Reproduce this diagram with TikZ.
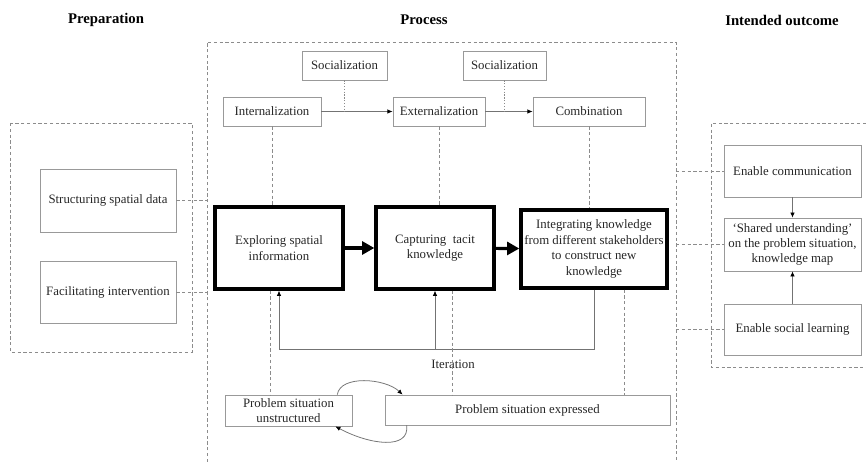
\documentclass[tikz,border=0pt]{standalone}
\usepackage{fontspec}
\setmainfont{Liberation Serif}
\usepackage{tikz}
\usetikzlibrary{arrows.meta,positioning,calc}

\begin{document}
\begin{tikzpicture}[x=0.78pt, y=-0.78pt,
    every node/.style={font=\fontsize{10}{12}\selectfont, text=black!85, align=center},
    title/.style={font=\fontsize{11.5}{14}\selectfont\bfseries, text=black},
    stage/.style={draw=black!40, line width=0.6pt, inner sep=2pt},
    bigstage/.style={draw=black, line width=2.6pt, inner sep=2pt},
    frame/.style={draw=black!45, line width=0.6pt, dash pattern=on 2.5pt off 2pt},
    link/.style={draw=black!45, line width=0.6pt, dash pattern=on 2.5pt off 2pt},
    soclink/.style={draw=black!45, line width=0.6pt, dash pattern=on 1pt off 1.2pt},
    flow/.style={draw=black!55, line width=0.6pt, -{Latex[length=4pt,width=3.5pt,black]}},
    push/.style={line width=2.5pt, -{Triangle[length=9.5pt,width=10pt]}}]
    \useasboundingbox (0,0) rectangle (866,462);

    % column titles
    \node[title] (prepT) at (106,20) {Preparation};
    \node[title] (procT) at (424,20) {Process};
    \node[title] (outT) at (782,20) {Intended outcome};

    % frames
    \coordinate (pTL) at (207,42);
    \coordinate (pTR) at (676,42);
    \draw[frame] (207,462) -- (pTL) -- (pTR) -- (676,462);
    \draw[frame] (10,123) rectangle (192,352);
    \draw[frame] (866,123) -- (711,123) -- (711,367) -- (866,367);

    % preparation
    \node[stage, minimum width=106pt, minimum height=49pt] (struct) at (108,200.5) {Structuring spatial data};
    \node[stage, minimum width=106pt, minimum height=48.4pt] (facil) at (108,292) {Facilitating intervention};

    % knowledge conversion
    \node[stage, minimum width=66.3pt, minimum height=22.6pt] (soc1) at (344.5,65.5) {Socialization};
    \node[stage, minimum width=64.7pt, minimum height=22.6pt] (soc2) at (504.5,65.5) {Socialization};
    \node[stage, minimum width=76.4pt, minimum height=22.6pt] (intern) at (272,111.5) {Internalization};
    \node[stage, minimum width=71.8pt, minimum height=22.6pt] (extern) at (439,111.5) {Externalization};
    \node[stage, minimum width=87.4pt, minimum height=22.6pt] (comb) at (589,111.5) {Combination};

    % main steps
    \node[bigstage, minimum width=99.8pt, minimum height=64pt] (explore) at (279,248) {Exploring spatial\\information};
    \node[bigstage, minimum width=92pt, minimum height=64pt] (capture) at (435,248) {Capturing~ tacit\\knowledge};
    \node[bigstage, minimum width=113.9pt, minimum height=60.8pt, inner sep=0pt] (integr) at (594,249) {Integrating knowledge\\from different stakeholders\\to construct new\\knowledge};

    % problem situation
    \node[stage, minimum width=99pt, minimum height=24.2pt, inner sep=0pt] (unstruct) at (288.5,410.5) {Problem situation\\unstructured};
    \node[stage, minimum width=222.3pt, minimum height=23.4pt] (expr) at (527.5,410) {Problem situation expressed};
    \node (iterlbl) at (453,364) {Iteration};

    % outcome
    \node[stage, minimum width=106.9pt, minimum height=40.6pt] (comm) at (792.5,171) {Enable communication};
    \node[stage, minimum width=106.9pt, minimum height=41.3pt] (shared) at (792.5,244.5) {‘Shared understanding’\\on the problem situation,\\knowledge map};
    \node[stage, minimum width=106.9pt, minimum height=39.8pt] (social) at (792.5,329.5) {Enable social learning};

    % conversion arrows
    \draw[flow] (intern) -- (extern);
    \draw[flow] (extern) -- (comb);
    \draw[soclink] (soc1.south) -- (soc1.south |- intern.east);
    \draw[soclink] (soc2.south) -- (soc2.south |- extern.east);
    \draw[link] (intern.south) -- (intern.south |- explore.north);
    \draw[link] (extern.south) -- (extern.south |- capture.north);
    \draw[link] (comb.south) -- (comb.south |- integr.north);

    % main flow
    \draw[push] (explore) -- (capture);
    \draw[push] (capture) -- (integr);

    % iteration loop
    \coordinate (iter) at (0,349);
    \draw[flow] (integr.south) -- (integr.south |- iter) -| (explore.south);
    \draw[flow] (capture.south |- iter) -- (capture.south);

    % links to problem situation
    \coordinate (d1) at ($(explore.south)+(-9,0)$);
    \coordinate (d2) at ($(capture.south)+(17,0)$);
    \coordinate (d3) at ($(integr.south)+(30,0)$);
    \draw[link] (d1) -- (d1 |- unstruct.north);
    \draw[link] (d2) -- (d2 |- expr.north);
    \draw[link] (d3) -- (d3 |- expr.north);
    \draw[flow] ($(unstruct.north east)+(-15,0)$) .. controls (340,375) and (385,378) .. ($(expr.north west)+(18,0)$);
    \draw[flow] ($(expr.south west)+(22,0)$) .. controls (410,450) and (370,445) .. ($(unstruct.south east)+(-17,0)$);

    % side links
    \draw[link] (struct.east) -- (struct.east -| pTL);
    \draw[link] (facil.east) -- (facil.east -| pTL);
    \draw[link] (comm.west -| pTR) -- (comm.west);
    \draw[link] (shared.west -| pTR) -- (shared.west);
    \draw[link] (social.west -| pTR) -- (social.west);
    \draw[flow] (comm) -- (shared);
    \draw[flow] (social) -- (shared);
  \end{tikzpicture}
\end{document}
